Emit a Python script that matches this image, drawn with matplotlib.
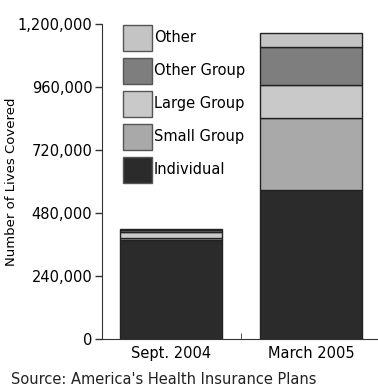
import numpy as np
import matplotlib.pyplot as plt
from matplotlib.ticker import FuncFormatter

periods = ['Sept. 2004', 'March 2005']
segments = ['Individual', 'Small Group', 'Large Group', 'Other Group', 'Other']
individual = [377000, 567000]
small_group = [8000, 274000]
large_group = [22000, 126000]
other_group = [9000, 145000]
other = [3000, 53000]
yticks = [0, 240000, 480000, 720000, 960000, 1200000]

colors = ['#2b2b2b', '#a9a9a9', '#c9c9c9', '#7e7e7e', '#c4c4c4']

plt.rcParams['font.family'] = ['DejaVu Sans']

fig = plt.figure(figsize=(3.78, 3.89), dpi=100)
ax = fig.add_axes([0.27, 0.1285, 0.73, 0.81])

x = np.arange(len(periods))
bottom = np.zeros(len(periods))
for vals, c, name in zip([individual, small_group, large_group, other_group, other], colors, segments):
    ax.bar(x, vals, width=0.73, bottom=bottom, color=c, edgecolor='#222222',
           linewidth=1, label=name)
    bottom += np.array(vals)

ax.set_xlim(-0.493, 1.479)
ax.set_ylim(0, 1200000)
ax.set_yticks(yticks)
ax.yaxis.set_major_formatter(FuncFormatter(lambda v, p: f'{int(v):,}'))
ax.tick_params(axis='y', direction='out', length=5, width=1, labelsize=10.5, pad=2, color='#333333')
ax.set_xticks(x)
ax.set_xticklabels(periods)
ax.tick_params(axis='x', length=0, labelsize=10.5, pad=5)
ax.set_xticks([0.5], minor=True)
ax.tick_params(axis='x', which='minor', direction='in', length=4, color='#333333')
for s in ['top', 'right']:
    ax.spines[s].set_visible(False)
ax.spines['left'].set_color('#333333')
ax.spines['bottom'].set_color('#333333')
ax.set_ylabel('Number of Lives Covered', fontsize=9.5)
ax.yaxis.set_label_coords(-0.304, 0.50)

h, l = ax.get_legend_handles_labels()
leg = ax.legend(h[::-1], l[::-1], loc='upper left', bbox_to_anchor=(0.076, 0.997),
                frameon=False, fontsize=10.5, handlelength=2.0, handleheight=2.36,
                labelspacing=0.48, handletextpad=0.1, borderpad=0, borderaxespad=0)
for p in leg.get_patches():
    p.set_edgecolor('#555555')

fig.text(0.03, 0.012, "Source: America's Health Insurance Plans", fontsize=10.5, color='#222222')

fig.savefig('out.png', dpi=100)
